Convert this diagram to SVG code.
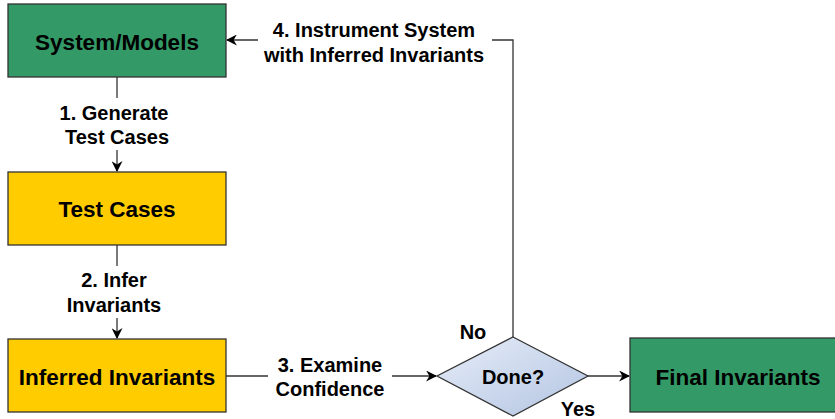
<svg xmlns="http://www.w3.org/2000/svg" width="835" height="419" viewBox="0 0 835 419">
  <defs>
    <linearGradient id="diamondFill" x1="0" y1="0" x2="1" y2="1">
      <stop offset="0" stop-color="#e6edf8"/>
      <stop offset="1" stop-color="#b3c4e2"/>
    </linearGradient>
    <marker id="arrow" viewBox="0 0 10 10" refX="9" refY="5" markerWidth="11" markerHeight="11" markerUnits="userSpaceOnUse" orient="auto">
      <path d="M0,0 L10,5 L0,10 L3,5 Z" fill="#000"/>
    </marker>
  </defs>
  <style>
    .box { stroke: #333; stroke-width: 1.3; }
    .green { fill: #339966; }
    .yellow { fill: #ffcc00; }
    .title { font-family: "Liberation Sans", Arial, sans-serif; font-weight: bold; font-size: 22.5px; fill: #000; text-anchor: middle; }
    .label { font-family: "Liberation Sans", Arial, sans-serif; font-weight: bold; font-size: 20px; fill: #000; text-anchor: middle; }
    .edge { fill: none; stroke: #333; stroke-width: 1.3; }
    .bg { fill: #fff; }
  </style>
  <rect width="835" height="419" fill="#fff"/>

  <g id="connectors">
    <path class="edge" d="M117,77 V171" marker-end="url(#arrow)"/>
    <path class="edge" d="M117,245 V338" marker-end="url(#arrow)"/>
    <path class="edge" d="M226,376 H436" marker-end="url(#arrow)"/>
    <path class="edge" d="M588,376 H629" marker-end="url(#arrow)"/>
    <path class="edge" d="M513,337 V40 H227" marker-end="url(#arrow)"/>
    <rect class="bg" x="52" y="98" width="130" height="52"/>
    <rect class="bg" x="60" y="266" width="114" height="52"/>
    <rect class="bg" x="268" y="350" width="124" height="52"/>
    <rect class="bg" x="258" y="12" width="234" height="56"/>
    <text class="label" x="114" y="120">1. Generate</text>
    <text class="label" x="117" y="144">Test Cases</text>
    <text class="label" x="114" y="287">2. Infer</text>
    <text class="label" x="114" y="312">Invariants</text>
    <text class="label" x="330" y="372">3. Examine</text>
    <text class="label" x="330" y="396">Confidence</text>
    <text class="label" x="374" y="37">4. Instrument System</text>
    <text class="label" x="374" y="62">with Inferred Invariants</text>
    <text class="label" x="473" y="339">No</text>
    <text class="label" x="578" y="416">Yes</text>
  </g>

  <g id="system-models">
    <rect class="box green" x="8" y="4" width="218" height="73"/>
    <text class="title" x="117" y="50">System/Models</text>
  </g>
  <g id="test-cases">
    <rect class="box yellow" x="8" y="172" width="218" height="73"/>
    <text class="title" x="117" y="217">Test Cases</text>
  </g>
  <g id="inferred-invariants">
    <rect class="box yellow" x="8" y="339" width="218" height="73"/>
    <text class="title" x="117" y="385">Inferred Invariants</text>
  </g>
  <g id="done">
    <path d="M513,337 L588,376 L513,416 L437,376 Z" fill="url(#diamondFill)" stroke="#333" stroke-width="1.3"/>
    <text class="title" x="513" y="384" style="font-size:20px">Done?</text>
  </g>
  <g id="final-invariants">
    <rect class="box green" x="630" y="338" width="210" height="74"/>
    <text class="title" x="738" y="385">Final Invariants</text>
  </g>
</svg>
